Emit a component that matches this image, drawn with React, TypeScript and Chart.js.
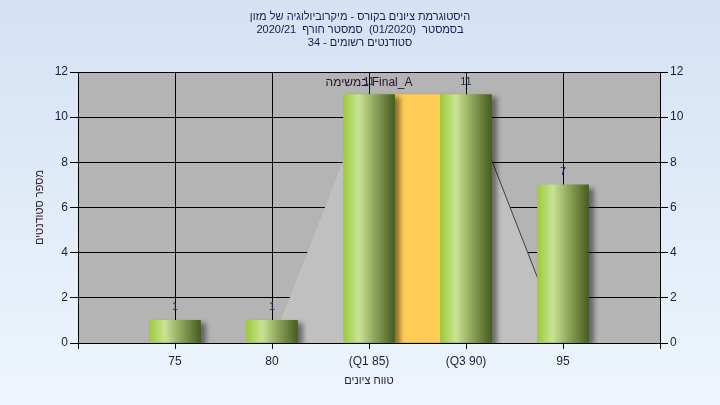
import React, { useEffect, useRef } from "react";
import { Chart, registerables } from "chart.js";

Chart.register(...registerables);

const categories = ["75", "80", "(Q1 85)", "(Q3 90)", "95"];
const counts = [1, 1, 11, 11, 7];
const highlightPos = [3.5];
const highlightVal = [11];
const highlightLabel = "במשימה Final_A";
const areaX = [1, 2, 3, 4, 5];
const areaY = [0, 0, 11, 11, 0];
const yTicks = [0, 2, 4, 6, 8, 10, 12];
const titleLines = [
  "היסטוגרמת ציונים בקורס - מיקרוביולוגיה של מזון",
  "בסמסטר  (01/2020)  סמסטר חורף  2020/21",
  "סטודנטים רשומים - 34",
];
const xTitle = "טווח ציונים";
const yTitle = "מספר סטודנטים";

const FONT = "'Liberation Sans', Arial, sans-serif";
const TEXT = "#1c1c3c";

const decorPlugin = {
  id: "decor",
  beforeDraw(chart: any) {
    const { ctx, width, height, chartArea } = chart;
    ctx.save();
    const g = ctx.createLinearGradient(0, 0, 0, height);
    g.addColorStop(0, "#d4e2f4");
    g.addColorStop(1, "#eef5fc");
    ctx.fillStyle = g;
    ctx.fillRect(0, 0, width, height);
    ctx.fillStyle = "#b4b4b4";
    ctx.fillRect(chartArea.left, chartArea.top, chartArea.right - chartArea.left, chartArea.bottom - chartArea.top);
    ctx.restore();
  },
  beforeDatasetDraw(chart: any, args: any) {
    if (args.meta.type === "bar") {
      const ctx = chart.ctx;
      ctx.save();
      ctx.shadowColor = "rgba(0,0,0,0.45)";
      ctx.shadowOffsetX = 5;
      ctx.shadowOffsetY = 3;
      ctx.shadowBlur = 5;
    }
  },
  afterDatasetDraw(chart: any, args: any) {
    if (args.meta.type === "bar") chart.ctx.restore();
  },
  afterDraw(chart: any) {
    const { ctx, chartArea, scales } = chart;
    ctx.save();
    ctx.direction = "rtl";
    ctx.textAlign = "center";
    ctx.textBaseline = "middle";
    ctx.fillStyle = "#1a1a50";
    ctx.font = `11px ${FONT}`;
    titleLines.forEach((t, i) => ctx.fillText(t, 360, 17 + i * 13));
    ctx.fillStyle = "#2a2030";
    ctx.font = `11px ${FONT}`;
    const cx = (chartArea.left + chartArea.right) / 2;
    const cy = (chartArea.top + chartArea.bottom) / 2;
    ctx.fillText(xTitle, cx, 381);
    ctx.save();
    ctx.translate(40, cy);
    ctx.rotate(-Math.PI / 2);
    ctx.fillText(yTitle, 0, 0);
    ctx.restore();
    ctx.direction = "ltr";
    const meta = chart.getDatasetMeta(0);
    ctx.font = `11px ${FONT}`;
    ctx.fillStyle = "#1b2a5b";
    meta.data.forEach((el: any, i: number) => {
      ctx.fillText(String(counts[i]), el.x, el.y - 13);
    });
    ctx.font = `12px ${FONT}`;
    ctx.fillStyle = "#2a1030";
    const hy = scales.y.getPixelForValue(highlightVal[0]) - 12;
    ctx.fillText(highlightLabel, scales.x.getPixelForValue(3), hy);
    ctx.restore();
  },
};

function greenGradient(context: any) {
  const chart = context.chart;
  if (!chart.chartArea || context.type !== "data") return "#8fb040";
  const x = chart.scales.x.getPixelForValue(context.raw.x);
  const half = 25.5;
  const g = chart.ctx.createLinearGradient(x - half, 0, x + half, 0);
  g.addColorStop(0, "#9ccb3a");
  g.addColorStop(0.3, "#c9e394");
  g.addColorStop(0.62, "#8ea35a");
  g.addColorStop(1, "#475d1e");
  return g;
}

export default function App() {
  const ref = useRef<HTMLCanvasElement>(null);
  useEffect(() => {
    if (!ref.current) return;
    const chart = new Chart(ref.current, {
      type: "bar",
      data: {
        datasets: [
          {
            type: "bar",
            data: counts.map((v, i) => ({ x: i + 1, y: v })),
            backgroundColor: greenGradient,
            barThickness: 51,
            grouped: false,
            borderWidth: 0,
            order: 1,
          } as any,
          {
            type: "bar",
            data: highlightPos.map((p, i) => ({ x: p, y: highlightVal[i] })),
            backgroundColor: "#ffcc55",
            barThickness: 46,
            grouped: false,
            borderWidth: 0,
            order: 2,
          } as any,
          {
            type: "line",
            data: areaX.map((x, i) => ({ x, y: areaY[i] })),
            fill: "origin",
            backgroundColor: "#c0c0c0",
            borderWidth: 1,
            borderColor: "#404040",
            segment: {
              borderColor: (c: any) => (c.p0.parsed.x >= 4 ? "#404040" : "rgba(0,0,0,0)"),
            },
            pointRadius: 0,
            tension: 0,
            order: 3,
          } as any,
        ],
      },
      options: {
        animation: false,
        responsive: false,
        layout: { padding: { top: 72, left: 0, right: 0, bottom: 0 } },
        plugins: { legend: { display: false }, tooltip: { enabled: false }, title: { display: false } },
        scales: {
          x: {
            type: "linear",
            min: 0,
            max: 6,
            offset: false,
            afterFit: (s: any) => {
              s.height = 62;
            },
            afterBuildTicks: (s: any) => {
              s.ticks = [0, 1, 2, 3, 4, 5, 6].map((v) => ({ value: v }));
            },
            ticks: {
              stepSize: 1,
              autoSkip: false,
              maxRotation: 0,
              padding: 5,
              color: TEXT,
              font: { family: FONT, size: 12 },
              callback: (v: any) => categories[Number(v) - 1] ?? "",
            },
            grid: { color: "#000", lineWidth: 1, tickLength: 6, offset: false },
            border: { color: "#000", width: 1 },
          },
          y: {
            position: "left",
            min: 0,
            max: 12,
            afterFit: (s: any) => {
              s.width = 78;
            },
            afterBuildTicks: (s: any) => {
              s.ticks = yTicks.map((v) => ({ value: v }));
            },
            ticks: { padding: 2, color: TEXT, font: { family: FONT, size: 12 } },
            grid: { color: "#000", lineWidth: 1, tickLength: 8 },
            border: { color: "#000", width: 1 },
          },
          y2: {
            position: "right",
            min: 0,
            max: 12,
            afterFit: (s: any) => {
              s.width = 60;
            },
            afterBuildTicks: (s: any) => {
              s.ticks = yTicks.map((v) => ({ value: v }));
            },
            ticks: { padding: 2, color: TEXT, font: { family: FONT, size: 12 } },
            grid: { color: "#000", lineWidth: 1, tickLength: 8, drawOnChartArea: false },
            border: { color: "#000", width: 1 },
          },
        },
      } as any,
      plugins: [decorPlugin],
    });
    return () => chart.destroy();
  }, []);
  return (
    <canvas
      ref={ref}
      width={720}
      height={405}
      style={{ position: "absolute", left: 0, top: 0, width: 720, height: 405, display: "block" }}
    />
  );
}
